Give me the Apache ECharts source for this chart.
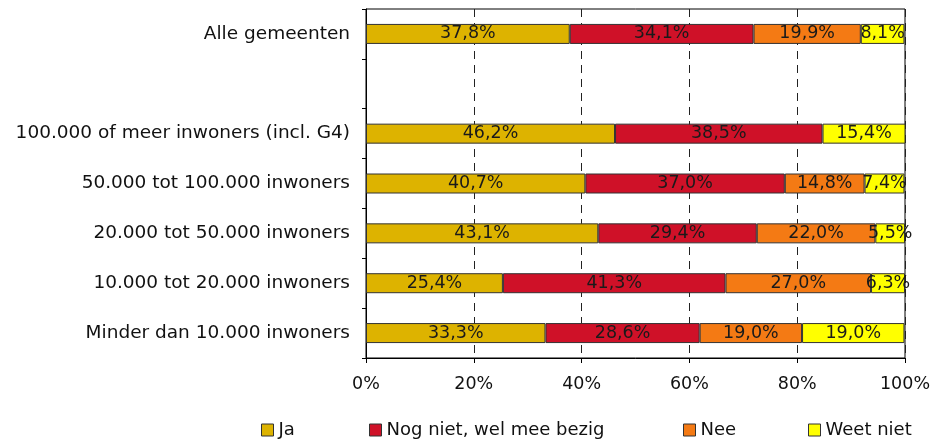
<!DOCTYPE html>
<html>
<head>
<meta charset="utf-8">
<script src="https://cdn.jsdelivr.net/npm/echarts@6/dist/echarts.min.js"></script>
<style>
  html, body { margin: 0; padding: 0; background: #fff; }
  #chart { width: 940px; height: 439px; }
</style>
</head>
<body>
<div id="chart"></div>
<script>
// categorieën van boven naar beneden (lege rij als scheiding)
var categories = [
  'Alle gemeenten',
  '',
  '100.000 of meer inwoners (incl. G4)',
  '50.000 tot 100.000 inwoners',
  '20.000 tot 50.000 inwoners',
  '10.000 tot 20.000 inwoners',
  'Minder dan 10.000 inwoners'
];
var ja      = [37.8, null, 46.2, 40.7, 43.1, 25.4, 33.3];
var nogNiet = [34.1, null, 38.5, 37.0, 29.4, 41.3, 28.6];
var nee     = [19.9, null, null, 14.8, 22.0, 27.0, 19.0];
var weetNiet = [8.1, null, 15.4, 7.4, 5.5, 6.3, 19.0];

var seriesNames = ['Ja', 'Nog niet, wel mee bezig', 'Nee', 'Weet niet'];
var seriesColors = ['#DDB300', '#CF1128', '#F47A14', '#FFFF00'];
var seriesData = [ja, nogNiet, nee, weetNiet];

var FONT = 'DejaVu Sans';

function pct(v) {
  return v.toFixed(1).replace('.', ',') + '%';
}

var chart = echarts.init(document.getElementById('chart'), null, { renderer: 'canvas' });

var series = seriesNames.map(function (name, i) {
  return {
    name: name,
    type: 'bar',
    stack: 'totaal',
    barWidth: 20,
    data: seriesData[i],
    itemStyle: { color: seriesColors[i], borderColor: '#333', borderWidth: 1 },
    label: {
      show: true,
      position: 'inside',
      color: '#1a1a1a',
      fontFamily: FONT,
      fontSize: 17.5,
      formatter: function (p) { return p.value == null ? '' : pct(p.value); }
    },
    emphasis: { disabled: true }
  };
});

// losse legenda's zodat de posities overeenkomen met het origineel
var legendLeft = [261, 369, 683, 808];
var legends = seriesNames.map(function (name, i) {
  return {
    data: [name],
    left: legendLeft[i],
    top: 421,
    padding: 0,
    itemWidth: 12,
    itemHeight: 12,
    icon: 'rect',
    selectedMode: false,
    itemStyle: { borderColor: '#333', borderWidth: 1 },
    textStyle: { fontFamily: FONT, fontSize: 18, color: '#111' }
  };
});

chart.setOption({
  animation: false,
  backgroundColor: '#fff',
  grid: {
    left: 366, right: 35, top: 9, bottom: 81,
    show: true, borderColor: '#000', borderWidth: 1
  },
  legend: legends,
  xAxis: {
    type: 'value',
    min: 0, max: 100, interval: 20,
    axisLine: { show: true, lineStyle: { color: '#000' } },
    axisTick: { show: true, length: 5, lineStyle: { color: '#000' } },
    axisLabel: {
      margin: 17,
      fontFamily: FONT, fontSize: 17.5, color: '#111',
      formatter: function (v) { return v + '%'; }
    },
    splitLine: { show: true, lineStyle: { color: '#222', type: [8, 6], width: 1 } }
  },
  yAxis: {
    type: 'category',
    inverse: true,
    data: categories,
    axisLine: { show: true, lineStyle: { color: '#000' } },
    axisTick: { show: true, length: 4, lineStyle: { color: '#000' } },
    axisLabel: { margin: 16, fontFamily: FONT, fontSize: 18.5, color: '#111' }
  },
  series: series
});
</script>
</body>
</html>
